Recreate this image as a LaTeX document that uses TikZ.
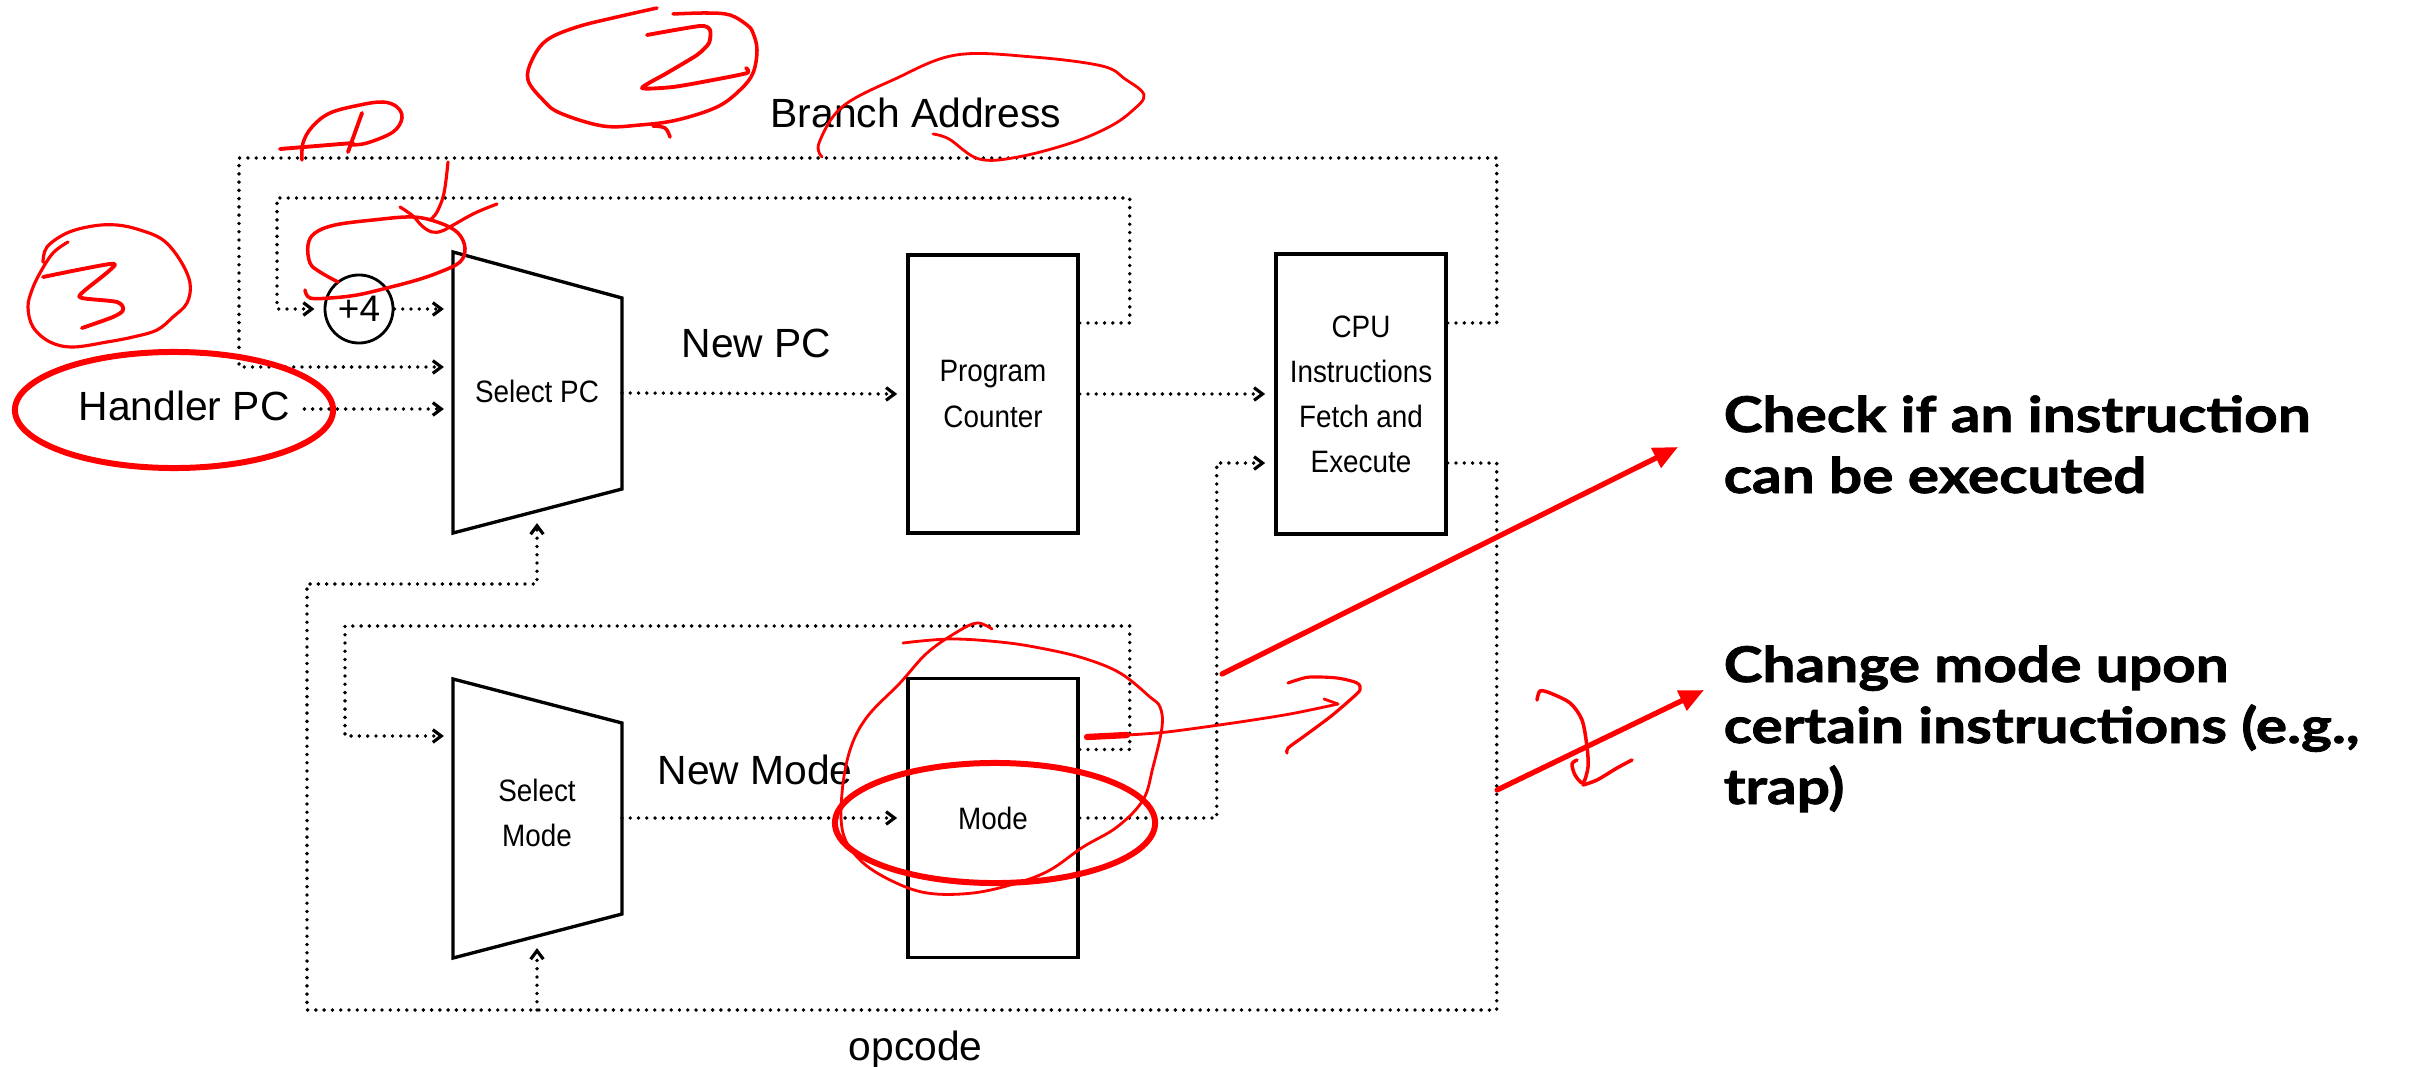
\documentclass[tikz,border=0pt]{standalone}
\usepackage{fontspec}
\setmainfont{Liberation Sans}
\newfontfamily\narrowfont{Liberation Sans}[FakeStretch=0.9]
\newfontfamily\notefont{Lato}[FakeStretch=1.19, BoldFeatures={FakeBold=1.6}]
\usetikzlibrary{arrows.meta}

\begin{document}
\begin{tikzpicture}[x=0.01cm,y=-0.01cm,
  wire/.style={line width=1.1pt, dash pattern=on 0pt off 2.35pt, line cap=round},
  feed/.style={wire, -{Straight Barb[length=2.4pt,width=3.6pt,line width=0.9pt]}, shorten >=2.6pt},
  unit/.style={draw, line width=0.95pt, line join=miter},
  lbl/.style={font=\fontsize{11.6}{13}\selectfont, inner sep=0pt, anchor=base west},
  inlbl/.style={font=\narrowfont\fontsize{8.8}{12.8}\selectfont, align=center, inner sep=0pt},
  ink/.style={red, line cap=round, line join=round},
  note/.style={font=\notefont\bfseries\fontsize{14}{17}\selectfont, inner sep=0pt, anchor=base west},
  redarrow/.style={ink, line width=1.5pt, -{Triangle[length=7pt,width=6pt]}}
]
\useasboundingbox (0,0) rectangle (2425,1067);

% ---------- datapath units ----------
\draw[unit] (453,252) -- (622,298) -- (622,489) -- (453,533) -- cycle;
\node[inlbl] (selpc) at (537,391) {Select PC};
\coordinate (selpc-in1) at (453,309);
\coordinate (selpc-in2) at (453,367);
\coordinate (selpc-in3) at (453,409);
\coordinate (selpc-bot) at (537,514);
\coordinate (selpc-out) at (622,393);

\draw[unit] (453,679) -- (622,723) -- (622,914) -- (453,958) -- cycle;
\node[inlbl] (selmode) at (537,813) {Select\\Mode};
\coordinate (selmode-in1) at (453,736);
\coordinate (selmode-bot) at (537,939);
\coordinate (selmode-out) at (622,818);

\node[unit, inlbl, minimum width=1.70cm, minimum height=2.78cm] (pc) at (993,394) {Program\\Counter};
\node[unit, inlbl, minimum width=1.70cm, minimum height=2.80cm] (cpu) at (1361,394) {CPU\\Instructions\\Fetch and\\Execute};
\node[unit, inlbl, minimum width=1.70cm, minimum height=2.79cm] (mode) at (993,818) {Mode};

\node[draw, circle, line width=0.8pt, minimum size=0.68cm, inner sep=0pt,
      font=\fontsize{10.5}{12}\selectfont] (plus4) at (359,309) {+4};

% ---------- labels ----------
\node[lbl] (branch) at (770,128) {Branch Address};
\node[lbl] (handler) at (78,420) {Handler PC};
\node[lbl] (newpc) at (681,358) {New PC};
\node[lbl] (newmode) at (657,784) {New Mode};
\node[lbl] (opcode) at (848,1060) {opcode};

% ---------- dotted signal lines ----------
\draw[feed] ([yshift=0.71cm]cpu.east) -- ++(49,0) |- (239,158) |- (selpc-in2);
\draw[feed] ([yshift=0.71cm]pc.east) -- ++(50,0) |- (277,198) |- (plus4.west);
\draw[feed] (plus4.east) -- (selpc-in1);
\draw[feed, shorten <=4pt] (handler.east |- selpc-in3) -- (selpc-in3);
\draw[feed] (selpc-out) -- (pc.west);
\draw[feed] (pc.east) -- (cpu.west);
\draw[feed] (mode.east) -- ++(137,0) |- ([yshift=-0.69cm]cpu.west);
\coordinate (opc-tap) at (537,1010);
\draw[feed] ([yshift=-0.69cm]cpu.east) -- ++(49,0) |- (307,1010) |- (537,584) -- (selpc-bot);
\draw[feed] (opc-tap) -- (selmode-bot);
\draw[feed] ([yshift=0.685cm]mode.east) -- ++(50,0) |- (345,626) |- (selmode-in1);
\draw[feed] (selmode-out) -- (mode.west);

% ---------- notes ----------
\node[note] (chk1) at (1723,432) {Check if an instruction};
\node[note] (chk2) at (1723,493) {can be executed};
\node[note] (chg1) at (1723,682) {Change mode upon};
\node[note] (chg2) at (1723,743) {certain instructions (e.g.,};
\node[note] (chg3) at (1723,804) {trap)};

% ---------- red pen marks ----------
% circled 3
\draw[ink, line width=0.9pt] plot[smooth, tension=0.6] coordinates {(68,242) (53,253) (40,273) (32,290) (28,307) (33,327) (50,342) (73,347) (107,342) (133,337) (157,330) (173,317) (187,303) (190,283) (180,260) (163,240) (140,230) (117,225) (93,226) (67,233) (47,247) (43,262)};
\draw[ink, line width=1.1pt] plot[smooth, tension=0.5] coordinates {(43,277) (110,264) (110,270) (83,292) (82,298) (117,302) (123,310) (113,317) (82,328)};
% handler ellipse
\draw[ink, line width=1.7pt] (174,410) ellipse [x radius=1.59cm, y radius=0.58cm];
% marked 1
\draw[ink, line width=1pt] plot[smooth, tension=0.6] coordinates {(302,160) (303,143) (312,127) (330,113) (360,105) (383,102) (397,107) (402,118) (393,132) (367,143) (350,145)};
\draw[ink, line width=1.1pt] (280,149) -- (353,143);
\draw[ink, line width=1.1pt] (362,113) -- (348,152);
% loop above the +4 unit
\draw[ink, line width=1pt] plot[smooth, tension=0.6] coordinates {(338,282) (320,272) (310,263) (308,245) (315,233) (335,225) (373,220) (413,217) (440,223) (458,233) (465,248) (460,262) (440,272) (417,280) (387,288) (357,295) (330,298) (310,298) (305,290)};
\draw[ink, line width=0.9pt] plot[smooth, tension=0.6] coordinates {(448,162) (444,193) (437,212) (430,220)};
\draw[ink, line width=0.9pt] plot[smooth, tension=0.6] coordinates {(400,207) (413,216) (422,226) (432,232) (442,231) (455,224) (475,213) (497,204)};
% circled 2
\draw[ink, line width=1pt] plot[smooth, tension=0.6] coordinates {(673,14) (707,13) (730,15) (747,25) (753,33) (757,50) (753,73) (740,90) (717,107) (677,120) (640,125) (603,126) (560,113) (543,100) (528,80) (532,60) (547,40) (577,27) (617,17) (657,8)};
\draw[ink, line width=1pt] plot[smooth, tension=0.6] coordinates {(653,126) (665,128) (670,137)};
\draw[ink, line width=1.1pt] plot[smooth, tension=0.4] coordinates {(647,35) (700,26) (710,30) (709,43) (697,55) (667,73) (642,88) (673,87) (713,80) (747,73) (746,68)};
% loop around the branch address label
\draw[ink, line width=0.8pt] plot[smooth, tension=0.6] coordinates {(822,157) (819,143) (842,107) (895,79) (956,55) (1033,57) (1102,66) (1125,79) (1144,95) (1132,111) (1109,127) (1071,143) (1018,157) (979,159) (949,139) (933,134)};
% mode register marks
\draw[ink, line width=0.8pt] plot[smooth, tension=0.6] coordinates {(903,643) (950,639) (1000,642) (1040,648) (1083,658) (1120,673) (1150,697) (1160,707) (1162,727) (1153,767) (1143,800) (1117,827) (1083,847) (1050,870) (1017,883) (973,893) (927,893) (890,880) (860,860) (843,833) (842,793) (850,750) (867,717) (900,683) (927,653) (957,632) (977,623) (992,629)};
\draw[ink, line width=1.7pt] (995,823) ellipse [x radius=1.60cm, y radius=0.60cm];
\draw[ink, line width=1.8pt] (1087,737) -- (1127,735);
\draw[ink, line width=0.8pt] plot[smooth, tension=0.5] coordinates {(1127,735) (1167,732) (1233,723) (1290,714) (1338,704)};
\draw[ink, line width=0.8pt] (1324,699) -- (1338,704);
\draw[ink, line width=0.9pt] plot[smooth, tension=0.5] coordinates {(1288,683) (1297,680) (1310,677) (1337,678) (1357,683) (1360,690) (1350,700) (1330,717) (1303,737) (1288,748) (1287,753)};
% pointers to the notes
\coordinate (chk-tip) at (1678,447);
\coordinate (chg-tip) at (1704,690);
\draw[redarrow] (1222,674) -- (chk-tip);
\draw[redarrow] (1497,790) -- (chg-tip);
\draw[ink, line width=1pt] plot[smooth, tension=0.5] coordinates {(1537,700) (1540,691) (1550,693) (1570,703) (1582,720) (1587,747) (1588,767) (1583,783) (1575,775) (1572,764) (1577,760)};
\draw[ink, line width=1pt] plot[smooth, tension=0.5] coordinates {(1583,785) (1597,780) (1617,768) (1632,760)};
\end{tikzpicture}
\end{document}
